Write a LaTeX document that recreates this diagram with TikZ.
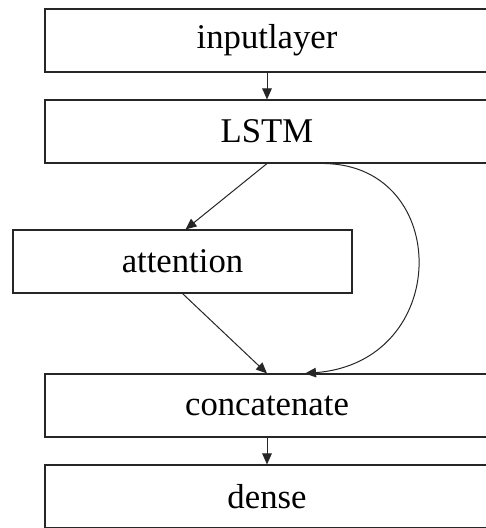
\documentclass[tikz,border=0pt]{standalone}
\usepackage{fontspec}
\setmainfont{Liberation Serif}
\usetikzlibrary{arrows.meta}
\begin{document}
\begin{tikzpicture}[x=1pt,y=1pt,
  box/.style={draw=black!85, line width=1.1pt, inner sep=0pt, minimum height=63pt,
    font=\fontsize{34.7}{40}\selectfont},
  wide/.style={box, minimum width=444pt},
  conn/.style={draw=black!85, line width=1pt, -{Triangle[length=11pt,width=9.5pt]}}]
\useasboundingbox (0,0) rectangle (486,-528);
\fill[white] (0,0) rectangle (486,-528);
\node[wide] (in) at (267,-40.5) {inputlayer};
\node[wide] (lstm) at (267,-131.5) {LSTM};
\node[box, minimum width=339pt] (att) at (182.5,-261.5) {attention};
\node[wide] (cat) at (267,-405.5) {concatenate};
\node[wide] (dense) at (267,-496.5) {dense};
\draw[conn] (in.south) -- (lstm.north);
\draw[conn] (lstm.south) -- ([xshift=3pt]att.north);
\draw[conn] (att.south) -- (cat.north);
\draw[conn] ([xshift=58pt]lstm.south) .. controls (452,-166) and (452,-362) .. ([xshift=38pt]cat.north);
\draw[conn] (cat.south) -- (dense.north);
\end{tikzpicture}
\end{document}
